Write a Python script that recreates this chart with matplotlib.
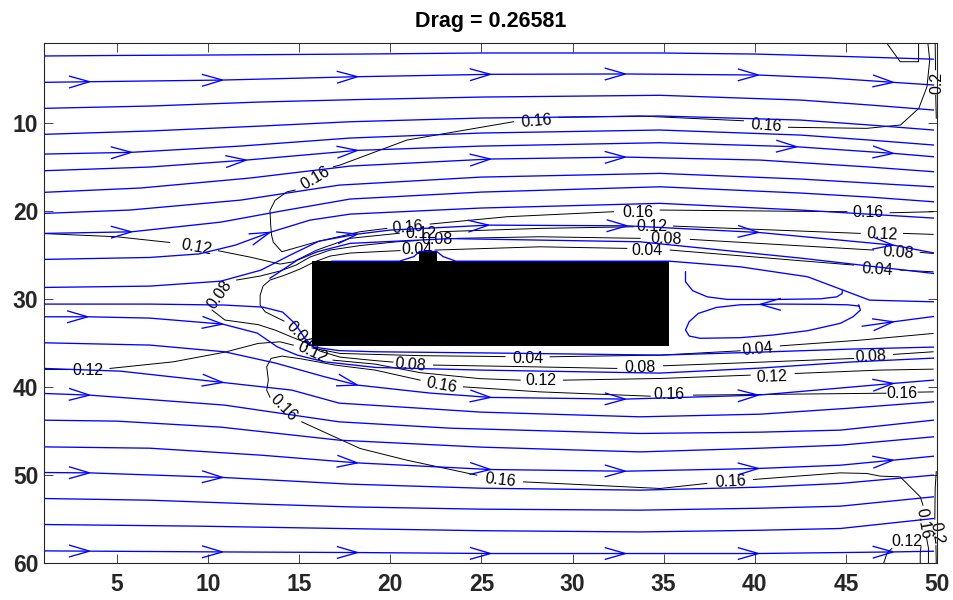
import numpy as np
import matplotlib
matplotlib.use("Agg")
import matplotlib.pyplot as plt

plt.rcParams['font.family'] = ['Liberation Sans', 'DejaVu Sans']

# ---------------- data ----------------
TITLE = "Drag = 0.26581"
XTICKS = [5, 10, 15, 20, 25, 30, 35, 40, 45, 50]
YTICKS = [10, 20, 30, 40, 50, 60]

# body (rectangle with a small bump on top)
BODY_X = [15.71, 21.60, 21.60, 22.55, 22.55, 35.30, 35.30, 15.71]
BODY_Y = [25.68, 25.68, 24.65, 24.65, 25.68, 25.68, 35.36, 35.36]

# streamlines (x, y) and arrow positions (x of arrow tip)
U1_X = [1, 5, 10, 18.3, 25, 34.8, 40, 45, 49.8]
U1_Y = [2.44, 2.38, 2.33, 2.22, 2.10, 2.10, 2.22, 2.50, 2.80]
U2_X = [1, 3.5, 10.8, 18.2, 25.5, 32.9, 40.2, 44.1, 47.6, 49.8]
U2_Y = [5.43, 5.36, 5.17, 4.79, 4.52, 4.48, 4.60, 4.94, 5.43, 5.73]
U3_X = [1, 6.8, 12.9, 18.3, 25, 34.8, 42.5, 46.3, 49.8]
U3_Y = [8.38, 8.12, 7.66, 7.38, 7.10, 6.90, 7.44, 8.00, 8.57]
U4_X = [1, 6.8, 12.9, 17.8, 25, 34.8, 42.5, 46.3, 49.8]
U4_Y = [11.33, 10.95, 10.39, 9.90, 9.48, 9.25, 9.71, 10.27, 10.84]
U5_X = [1, 5.8, 11.8, 17.8, 25, 34.8, 42.5, 46.3, 49.8]
U5_Y = [13.57, 13.37, 12.66, 11.75, 11.18, 10.84, 11.41, 11.98, 12.54]
U6_X = [1, 6.8, 12.1, 18.2, 25, 34.8, 42.3, 47.6, 49.8]
U6_Y = [15.46, 15.04, 14.25, 13.15, 12.66, 12.28, 12.74, 13.49, 13.87]
U7_X = [1, 6.3, 12.3, 17.8, 25.5, 32.9, 40.3, 46.3, 49.8]
U7_Y = [17.91, 17.42, 16.29, 14.93, 14.13, 13.91, 14.25, 15.04, 15.57]
U8_X = [1, 5.7, 11.8, 17.2, 25, 34.8, 42.5, 46.3, 49.8]
U8_Y = [20.30, 19.92, 18.79, 17.09, 16.18, 15.76, 16.40, 16.86, 17.28]
U9_X = [1, 5.8, 10.7, 14.0, 17.8, 25, 34.8, 42.5, 46.3, 49.8]
U9_Y = [22.57, 22.39, 21.29, 20.04, 18.67, 17.88, 17.28, 17.99, 18.45, 18.98]
U10_X = [1, 6.8, 9.5, 11.5, 13.4, 15.6, 17.8, 25, 34.8, 42.5, 49.8]
U10_Y = [25.52, 25.30, 24.90, 23.90, 22.45, 21.06, 20.38, 19.69, 19.16, 19.92, 20.83]
UA_X = [1, 6.8, 10.7, 12.9, 14.5, 16.1, 18.2, 20.0, 25.4, 33.0, 40.2, 47.6, 49.8]
UA_Y = [28.70, 28.55, 27.99, 26.74, 25.04, 23.44, 22.65, 22.19, 21.63, 21.71, 22.46, 23.90, 24.78]
UB_X = [13.4, 13.8, 14.9, 16.0, 17.8, 23.3, 33.7, 42.5, 49.8]
UB_Y = [27.65, 27.11, 25.60, 24.65, 23.70, 23.16, 23.52, 25.37, 27.11]
UD_X = [16.8, 20.5, 21.3, 21.6, 22.55, 22.9, 23.6, 35.3, 39.2, 42.9, 46.3, 49.8]
UD_Y = [25.72, 25.72, 25.20, 24.62, 24.62, 25.20, 25.72, 25.72, 26.36, 27.49, 30.14, 30.33]
S_X = [1, 6.8, 10.9, 13.0, 14.1, 14.8, 15.3, 15.8, 17.2, 19.2, 26.0, 34.8, 40.3, 45.2, 49.8]
S_Y = [30.59, 30.59, 30.70, 30.93, 31.50, 32.86, 34.45, 35.47, 35.87, 36.00, 36.15, 36.38, 36.04, 35.70, 35.47]
L1_X = [1, 3.4, 6.8, 10.8, 12.7, 13.8, 14.9, 16.4, 19.2, 25.0, 34.8, 40.3, 45.2, 49.8]
L1_Y = [32.03, 32.03, 32.18, 32.86, 33.88, 35.44, 36.38, 37.14, 37.78, 38.08, 38.42, 37.85, 37.17, 36.72]
L2_X = [1, 6.8, 10.9, 13.7, 16.4, 18.2, 22.2, 25.5, 32.9, 40.2, 47.6, 49.8]
L2_Y = [34.98, 35.24, 36.00, 37.28, 38.84, 39.78, 40.69, 41.18, 41.37, 40.92, 39.59, 39.22]
L3_X = [1, 5.2, 10.8, 14.6, 17.2, 21.6, 25, 33.7, 40.3, 45.2, 49.8]
L3_Y = [37.89, 38.20, 39.48, 40.35, 41.83, 42.40, 42.85, 43.38, 43.08, 42.40, 41.68]
L4_X = [1, 3.5, 10.9, 17.2, 23.3, 33.7, 40.3, 44.7, 49.8]
L4_Y = [40.73, 40.92, 42.05, 43.95, 44.67, 45.27, 45.12, 44.89, 43.76]
L5_X = [1, 5, 10.7, 17.2, 25, 33.7, 40.3, 44.7, 49.8]
L5_Y = [43.76, 43.87, 44.55, 46.03, 46.82, 47.36, 46.94, 46.60, 45.65]
L6_X = [1, 6.8, 12.9, 18.2, 25.5, 32.9, 40.2, 44.7, 47.6, 49.8]
L6_Y = [46.79, 46.94, 47.73, 48.61, 49.36, 49.55, 49.24, 48.87, 48.30, 47.85]
L7_X = [1, 3.5, 10.8, 17.8, 25, 33.7, 40.3, 44.7, 49.8]
L7_Y = [49.70, 49.74, 50.26, 51.02, 51.48, 51.70, 51.36, 50.94, 50.00]
L8_X = [1, 6.8, 12.9, 17.8, 25, 33.7, 40.3, 44.7, 49.8]
L8_Y = [52.65, 52.84, 53.29, 53.60, 53.86, 53.97, 53.75, 53.52, 52.46]
L9_X = [1, 9.6, 17.2, 25, 33.7, 40.3, 44.7, 49.8]
L9_Y = [55.60, 55.79, 56.05, 56.30, 56.44, 56.25, 56.05, 54.92]
L10_X = [1, 10.8, 18.2, 25.5, 40.2, 47.6, 49.8]
L10_Y = [58.59, 58.71, 58.78, 58.89, 58.89, 58.71, 58.63]
W1_X = [45.9, 47.6, 49.8]
W1_Y = [33.10, 32.60, 32.00]
LOOP1_X = [36.2, 36.2, 36.6, 37.4, 38.5, 41.4, 43.6, 44.5, 44.8, 44.8]
LOOP1_Y = [26.93, 28.06, 29.08, 29.77, 30.06, 30.06, 29.99, 29.77, 29.38, 29.08]
LOOP2_X = [45.7, 45.8, 45.4, 44.7, 42.9, 41.0, 39.2, 37.0, 36.4, 36.2, 36.4, 36.9, 37.9, 39.2, 41.4, 43.8, 45.1, 45.7]
LOOP2_Y = [30.69, 31.26, 32.02, 32.77, 33.61, 34.10, 34.40, 34.47, 34.21, 33.53, 32.59, 31.65, 30.97, 30.67, 30.59, 30.62, 30.67, 30.81]

ARR_U2 = [3.5, 10.8, 18.2, 25.5, 32.9, 40.2, 47.6]
ARR_U5 = [5.8]
ARR_U6 = [12.1, 18.2, 42.3, 47.6]
ARR_U7 = [25.5, 32.9]
ARR_U9 = [5.8]
ARR_U10 = [13.4]
ARR_UA = [18.2, 25.4, 33.0, 40.2, 47.6]
ARR_W1 = [47.6]
ARR_L1 = [3.4, 10.8]
ARR_L2 = [18.2, 25.5, 32.9, 40.2, 47.6]
ARR_L3 = [10.8]
ARR_L4 = [3.5]
ARR_L6 = [18.2, 25.5, 32.9, 40.2, 47.6]
ARR_L7 = [3.5, 10.8]
ARR_L10 = [3.5, 10.8, 18.2, 25.5, 32.9, 40.2, 47.6]
LOOP_ARROW = (40.3, 30.62)  # arrow pointing left on the recirculation loop

nan = np.nan
# contour lines (NaN separates pieces interrupted by labels)
C16_UP_X = [49.5, 49.6, 49.45, 49.0, 48.0, 46.15, 41.85, nan,
            39.38, 33.71, 29.23, nan,
            26.76, 20.91, 17.25, 16.88, nan,
            14.78, 14.33, 13.68, 13.40, 13.44, 13.49, 13.58, 14.05, 15.97, 18.34, 19.81, nan,
            22.19, 26.40, 32.25, nan, 34.81, 45.06, nan, 47.43, 49.79]
C16_UP_Y = [1.0, 2.9, 5.93, 8.38, 10.27, 10.65, 10.53, nan,
            9.79, 9.25, 9.40, nan,
            9.90, 11.98, 14.81, 15.01, nan,
            17.65, 17.86, 18.82, 19.96, 21.66, 22.80, 23.56, 24.65, 23.52, 22.38, 22.0, nan,
            21.51, 20.68, 20.11, nan, 19.92, 20.11, nan, 20.23, 20.11]
C12_UP_X = [1.0, 4.99, 7.9, nan,
            10.57, 12.31, 13.95, 14.68, 15.97, 17.79, 20.5, nan,
            22.73, 28.22, 33.33, nan, 35.54, 45.79, nan, 48.16, 49.79]
C12_UP_Y = [22.59, 22.95, 23.6, nan,
            24.54, 25.26, 26.05, 25.79, 24.46, 23.13, 22.55, nan,
            22.38, 22.0, 21.82, nan, 21.74, 22.57, nan, 22.57, 22.68]
C08_X = [21.53, 20.36, 18.34, 16.70, 15.60, 14.83, 13.95, 12.86, 11.57, nan,
         10.22, 10.93, 12.75, 13.68, 14.61, 15.43, 16.15, 17.25, 19.17, 20.15, nan,
         22.37, 27.13, 32.43, nan, 34.99, 40.30, 45.42, nan, 47.61, 49.79, nan,
         23.65, 28.22, 33.71, nan, 36.46, 46.52, nan, 49.08, 49.79]
C08_Y = [23.38, 23.52, 23.95, 24.46, 25.25, 26.16, 26.84, 27.41, 27.86, nan,
         31.27, 32.40, 32.92, 33.54, 34.34, 35.02, 35.93, 36.61, 37.00, 37.17, nan,
         37.51, 37.68, 37.89, nan, 37.59, 37.18, 36.76, nan, 36.30, 36.00, nan,
         23.13, 22.95, 23.13, nan, 23.25, 24.46, nan, 24.72, 24.84]
C04_X = [14.17, 13.13, 12.86, 12.86, 13.02, 13.40, 14.23, 15.05, 15.82, 16.70, 17.79, 19.44, 20.54, nan,
         22.46, 28.22, 32.98, nan, 35.36, 45.42, nan, 47.98, 49.79, nan,
         15.71, 17.25, 21.64, 26.3, nan, 28.77, 34.81, 39.2, nan, 41.4, 45.79, 49.79]
C04_Y = [32.52, 31.46, 30.70, 29.57, 28.55, 27.86, 27.29, 26.61, 25.82, 25.14, 24.80, 24.63, 24.52, nan,
         24.46, 24.09, 24.27, nan, 24.46, 26.16, nan, 26.73, 26.93, nan,
         35.57, 36.19, 36.44, 36.55, nan, 36.57, 36.38, 35.89, nan, 35.33, 34.68, 33.92]
C12_LOW_X = [1.0, 2.3, nan, 4.62, 8.10, 10.93, 12.76, 13.95, 14.68, nan,
             16.86, 19.17, 21.64, 24.93, 27.13, nan, 29.50, 34.81, 39.75, nan, 42.22, 46.88, 49.79]
C12_LOW_Y = [38.0, 38.02, nan, 37.89, 37.14, 36.04, 35.05, 34.87, 35.25, nan,
             36.95, 37.40, 38.37, 39.05, 39.22, nan, 39.22, 39.03, 38.65, nan, 38.46, 38.08, 37.97]
C16_LOW_X = [49.79, 48.97, nan, 47.2, 36.64, nan, 34.26, 28.22, 24.01, nan,
             21.64, 19.17, 16.97, 15.05, 14.06, 13.46, 13.22, 13.31, 13.22, 13.40, nan,
             15.14, 18.34, 20.91, 24.75, nan, 27.31, 34.81, 37.37, nan,
             39.93, 44.69, 46.15, 46.88, 47.98, 49.08, 49.23, nan, 49.42, 49.53, 49.53]
C16_LOW_Y = [40.55, 40.58, nan, 40.70, 40.92, nan, 41.04, 40.55, 39.98, nan,
             39.22, 38.08, 37.51, 36.78, 36.49, 36.75, 37.70, 39.22, 40.36, 41.15, nan,
             43.95, 46.97, 48.30, 50.0, nan, 50.76, 51.51, 50.94, nan,
             50.49, 49.74, 49.81, 50.11, 50.19, 52.46, 53.40, nan, 57.04, 58.27, 60.0]
C12_BR_X = [47.07, 47.25, 47.52, nan, 49.12, 49.08, 49.08]
C12_BR_Y = [60.0, 58.89, 58.32, nan, 58.10, 58.90, 60.0]
C20_X = [49.9, 49.92, nan, 49.93, 49.96, nan, 49.96, 49.9, 49.88, nan, 49.94, 49.96, nan,
         47.25, 47.98, 48.99, 48.99]
C20_Y = [1.0, 4.0, nan, 6.9, 9.5, nan, 49.6, 51.5, 55.0, nan, 58.0, 60.0, nan,
         1.0, 3.09, 3.09, 1.0]

LAB_TXT = ['0.16', '0.16', '0.16', '0.16', '0.12', '0.08', '0.04',
           '0.16', '0.12', '0.08', '0.04', '0.16', '0.12', '0.08', '0.04',
           '0.12', '0.08', '0.04', '0.12', '0.12', '0.16',
           '0.08', '0.04', '0.16', '0.12', '0.08', '0.16', '0.04', '0.12', '0.08', '0.16',
           '0.16', '0.16', '0.2', '0.16', '0.2', '0.12']
LAB_X = [40.63, 28.0, 15.87, 20.95, 21.69, 22.57, 21.46,
         33.57, 34.37, 35.14, 34.10, 46.23, 46.98, 47.87, 46.70,
         9.34, 10.66, 15.05, 15.74, 3.39, 14.17,
         21.09, 27.54, 22.79, 28.28, 33.71, 35.30, 40.16, 40.94, 46.39, 48.07,
         26.03, 38.69, 50.0, 49.27, 49.96, 48.35]
LAB_Y = [10.39, 9.82, 16.35, 21.91, 22.59, 23.27, 24.35,
         20.21, 21.74, 23.21, 24.46, 20.21, 22.65, 24.75, 26.73,
         24.13, 29.46, 34.11, 36.10, 38.08, 42.40,
         37.51, 36.76, 39.79, 39.22, 37.80, 40.81, 35.70, 38.84, 36.57, 40.73,
         50.57, 50.76, 5.45, 55.5, 56.58, 57.57]
LAB_ROT = [-4, 5, 31, 4, 0, 0, 0,
           0, 0, -2, 0, 0, -3, -4, -4,
           -10, 55, -45, -25, 0, -45,
           -5, 0, -10, 0, 0, 0, 5, 2, 3, 0,
           -6, 3, 90, -80, -80, 0]

# ---------------- style ----------------
BLUE = '#0000ff'
LW = 0.95
ARROW_LEN = 20.0   # px
ARROW_HALF = 5.8   # px
AX_COLOR = '#262626'

fig = plt.figure(figsize=(9.54, 6.0), dpi=100)
ax = fig.add_axes([0.04612, 0.06117, 0.93606, 0.86667])
ax.set_xlim(1, 50)
ax.set_ylim(60, 1)

# contours
for cx, cy in [(C16_UP_X, C16_UP_Y), (C12_UP_X, C12_UP_Y), (C08_X, C08_Y), (C04_X, C04_Y),
               (C12_LOW_X, C12_LOW_Y), (C16_LOW_X, C16_LOW_Y), (C12_BR_X, C12_BR_Y), (C20_X, C20_Y)]:
    ax.plot(cx, cy, color='k', lw=0.7, zorder=2)
for t, x, y, r in zip(LAB_TXT, LAB_X, LAB_Y, LAB_ROT):
    ax.text(x, y, t, rotation=r, rotation_mode='anchor', ha='center', va='center',
            fontsize=11.5, color='k', zorder=2.5, clip_on=False)

# body
ax.fill(BODY_X, BODY_Y, color='k', lw=0, zorder=3)

# streamlines
def chevron(x, y, ux, uy):
    T = ax.transData
    p = T.transform([x, y])
    q = T.transform([x + ux, y + uy])
    d = q - p
    d = d / np.hypot(d[0], d[1])
    n = np.array([-d[1], d[0]])
    a = p - ARROW_LEN * d + ARROW_HALF * n
    b = p - ARROW_LEN * d - ARROW_HALF * n
    pts = T.inverted().transform(np.array([a, p, b]))
    ax.plot(pts[:, 0], pts[:, 1], color=BLUE, lw=LW, zorder=4, solid_joinstyle='miter')

lines = [(U1_X, U1_Y, []), (U2_X, U2_Y, ARR_U2), (U3_X, U3_Y, []), (U4_X, U4_Y, []),
         (U5_X, U5_Y, ARR_U5), (U6_X, U6_Y, ARR_U6), (U7_X, U7_Y, ARR_U7), (U8_X, U8_Y, []),
         (U9_X, U9_Y, ARR_U9), (U10_X, U10_Y, ARR_U10), (UA_X, UA_Y, ARR_UA), (UB_X, UB_Y, []),
         (UD_X, UD_Y, []), (S_X, S_Y, []), (L1_X, L1_Y, ARR_L1), (L2_X, L2_Y, ARR_L2),
         (L3_X, L3_Y, ARR_L3), (L4_X, L4_Y, ARR_L4), (L5_X, L5_Y, []), (L6_X, L6_Y, ARR_L6),
         (L7_X, L7_Y, ARR_L7), (L8_X, L8_Y, []), (L9_X, L9_Y, []), (L10_X, L10_Y, ARR_L10),
         (W1_X, W1_Y, ARR_W1)]
for lx, ly, arrs in lines:
    ax.plot(lx, ly, color=BLUE, lw=LW, zorder=4)
    for xt in arrs:
        y0 = np.interp(xt, lx, ly)
        y1 = np.interp(xt - 0.3, lx, ly)
        chevron(xt, y0, 0.3, y0 - y1)
ax.plot(LOOP1_X, LOOP1_Y, color=BLUE, lw=LW, zorder=4)
ax.plot(LOOP2_X, LOOP2_Y, color=BLUE, lw=LW, zorder=4)
chevron(LOOP_ARROW[0], LOOP_ARROW[1], -0.3, 0.0)

# axes styling
ax.set_xticks(XTICKS)
ax.set_yticks(YTICKS)
ax.tick_params(direction='in', length=6.5, width=0.6, top=True, right=True,
               color=AX_COLOR, labelcolor=AX_COLOR, labelsize=16.5)
ax.tick_params(axis='x', pad=7)
ax.tick_params(axis='y', pad=4)
for lab in ax.get_xticklabels() + ax.get_yticklabels():
    lab.set_fontweight('bold')
for sp in ax.spines.values():
    sp.set_color(AX_COLOR)
    sp.set_linewidth(0.8)
    sp.set_zorder(5)

fig.text(490.5 / 954, 1 - 27.0 / 600, TITLE, ha='center', va='baseline',
         fontsize=15.5, fontweight='bold', color='k')

fig.savefig('out.png', dpi=100)
